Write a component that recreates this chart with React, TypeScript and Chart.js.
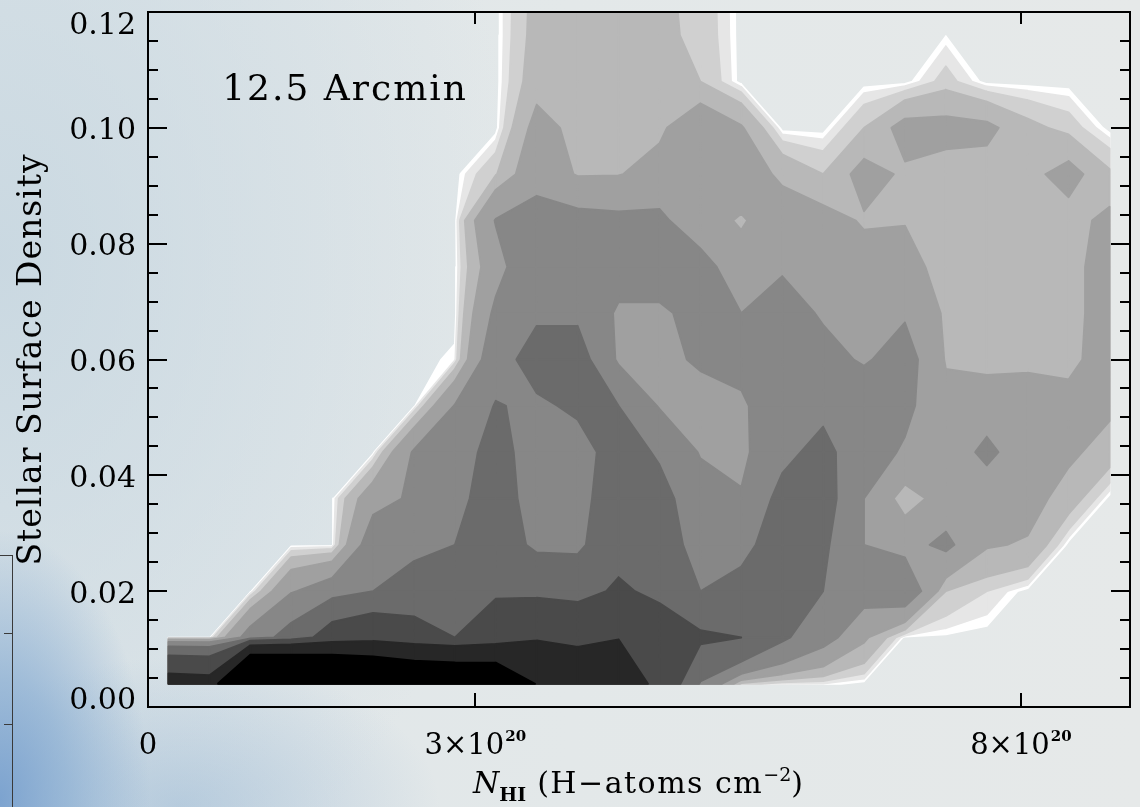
import React, { useEffect, useRef } from "react";
import { Chart, registerables } from "chart.js";

Chart.register(...registerables);

// ---- data -------------------------------------------------------------
// bin centres of the 2-D histogram: N_HI in units of 1e20 H-atoms cm^-2
const xCenters = [
  0.1875, 0.5625, 0.9375, 1.3125, 1.6875, 2.0625, 2.4375, 2.8125, 3.1875, 3.5625, 3.9375, 4.3125,
  4.6875, 5.0625, 5.4375, 5.8125, 6.1875, 6.5625, 6.9375, 7.3125, 7.6875, 8.0625, 8.4375, 8.8125,
];
// stellar surface density bin centres
const yCenters = [
  0.004, 0.012, 0.02, 0.028, 0.036, 0.044, 0.052, 0.06, 0.068, 0.076, 0.084, 0.092, 0.1, 0.108, 0.116, 0.124,
];

// estimated surface values on the grid, one array per density row
const row004 = [330, 315, 1312, 1249, 1095, 961, 864, 839, 803, 500, 400, 400, 200, 60, 6, 1.9, 1.8, 0, 0, 0, 0, 0, 0, 0];
const row012 = [0, 0, 42, 80, 170, 200, 160, 128, 170, 240, 220, 250, 180, 140, 128, 70, 40, 18, 0, 0.5, 0, 0, 0, 0];
const row020 = [0, 0, 0, 30, 45, 64, 90, 100, 120, 110, 100, 140, 110, 64, 80, 90, 64, 40, 48, 8, 4, 0, 0, 0];
const row028 = [0, 0, 0, 0, 0, 45, 50, 64, 90, 55, 55, 100, 90, 45, 50, 90, 70, 32, 26, 36, 17, 15, 0, 0];
const row036 = [0, 0, 0, 0, 0, 25, 35, 55, 80, 50, 50, 90, 75, 45, 34, 75, 80, 32, 10, 22, 22, 20, 12, 0];
const row044 = [0, 0, 0, 0, 0, 0, 34, 50, 75, 50, 50, 80, 60, 30, 26, 55, 75, 40, 30, 22, 36, 22, 18, 12];
const row052 = [0, 0, 0, 0, 0, 0, 0, 33, 66, 58, 70, 64, 30, 26, 28, 50, 55, 45, 36, 20, 24, 26, 20, 18];
const row060 = [0, 0, 0, 0, 0, 0, 0, 1.5, 48, 80, 80, 28, 28, 34, 40, 45, 38, 30, 40, 15, 12, 12, 13, 22];
const row068 = [0, 0, 0, 0, 0, 0, 0, 0, 36, 58, 58, 28, 28, 40, 32, 40, 30, 25, 30, 14, 12, 12, 12, 22];
const row076 = [0, 0, 0, 0, 0, 0, 0, 0, 25, 50, 50, 45, 45, 40, 20, 30, 25, 20, 20, 12, 12, 12, 12, 22];
const row084 = [0, 0, 0, 0, 0, 0, 0, 0, 33, 40, 38, 36, 36, 20, 15, 22, 20, 15, 15.5, 12, 12, 12, 12, 19];
const row092 = [0, 0, 0, 0, 0, 0, 0, 0, 7.5, 25, 15, 15.5, 20, 25, 22, 14, 8, 20, 14.5, 12, 12, 13, 20, 9];
const row100 = [0, 0, 0, 0, 0, 0, 0, 0, 0, 20, 13, 14, 14, 25, 17, 0, 0, 8, 20, 19.5, 18.5, 10, 6, 0];
const row108 = [0, 0, 0, 0, 0, 0, 0, 0, 0, 12, 12, 13, 12, 8, 0, 0, 0, 0, 0, 5.5, 0, 0, 0, 0];
const row116 = [0, 0, 0, 0, 0, 0, 0, 0, 0, 10.5, 11, 11, 9.2, 6.8, 0, 0, 0, 0, 0, 0.9, 0, 0, 0, 0];
const row124 = [0, 0, 0, 0, 0, 0, 0, 0, 0, 10, 11, 11, 9, 6.5, 0, 0, 0, 0, 0, 0, 0, 0, 0, 0];
const densityRows = [
  row004, row012, row020, row028, row036, row044, row052, row060,
  row068, row076, row084, row092, row100, row108, row116, row124,
];

const contourLevels = [1, 2, 4, 8, 16, 32, 64, 128, 256, 512];
const levelColors = [
  "#ffffff", "#e6e6e6", "#d0d0d0", "#b8b8b8", "#a0a0a0",
  "#878787", "#6b6b6b", "#4a4a4a", "#272727", "#000000",
];

const yTickValues = [0, 0.02, 0.04, 0.06, 0.08, 0.1, 0.12];
const yTickLabels = ["0.00", "0.02", "0.04", "0.06", "0.08", "0.10", "0.12"];
const xTickValues = [0, 3, 8];
const xTickMantissas = ["0", "3×10", "8×10"];
const xTickExponents = ["", "20", "20"];
const annotationText = "12.5 Arcmin";
const annotationX = 0.68;
const annotationY = 0.1048;

const SERIF = "'DejaVu Serif', 'Liberation Serif', serif";

type Pt = { x: number | null; y: number | null };

// filled region {value >= level}, cell by cell (marching squares)
function levelRegion(level: number): Pt[] {
  const pts: Pt[] = [];
  const emit = (poly: number[][]) => {
    if (poly.length < 3) return;
    for (const p of poly) pts.push({ x: p[0], y: p[1] });
    pts.push({ x: poly[0][0], y: poly[0][1] });
    pts.push({ x: null, y: null });
  };
  const cross = (a: number[], b: number[]) => {
    const t = (level - a[2]) / (b[2] - a[2]);
    return [a[0] + t * (b[0] - a[0]), a[1] + t * (b[1] - a[1])];
  };
  for (let j = 0; j < yCenters.length - 1; j++) {
    for (let i = 0; i < xCenters.length - 1; i++) {
      const c = [
        [xCenters[i], yCenters[j], densityRows[j][i]],
        [xCenters[i + 1], yCenters[j], densityRows[j][i + 1]],
        [xCenters[i + 1], yCenters[j + 1], densityRows[j + 1][i + 1]],
        [xCenters[i], yCenters[j + 1], densityRows[j + 1][i]],
      ];
      const ins = c.map((p) => p[2] >= level);
      const nIn = ins.filter(Boolean).length;
      if (nIn === 0) continue;
      if (nIn === 2 && ins[0] === ins[2]) {
        const centre = (c[0][2] + c[1][2] + c[2][2] + c[3][2]) / 4;
        if (centre < level) {
          for (let k = 0; k < 4; k++) {
            if (!ins[k]) continue;
            const prev = c[(k + 3) % 4];
            const next = c[(k + 1) % 4];
            emit([cross(prev, c[k]), [c[k][0], c[k][1]], cross(c[k], next)]);
          }
          continue;
        }
      }
      const poly: number[][] = [];
      for (let k = 0; k < 4; k++) {
        const a = c[k];
        const b = c[(k + 1) % 4];
        if (ins[k]) poly.push([a[0], a[1]]);
        if (ins[k] !== ins[(k + 1) % 4]) poly.push(cross(a, b));
      }
      emit(poly);
    }
  }
  return pts;
}

const decorPlugin = {
  id: "decor",
  afterDraw(chart: any) {
    const { ctx, chartArea: a } = chart;
    const xs = chart.scales.x;
    const ys = chart.scales.y;
    ctx.save();
    // frame
    ctx.strokeStyle = "#000";
    ctx.lineWidth = 2;
    ctx.beginPath();
    ctx.rect(a.left, a.top, a.right - a.left, a.bottom - a.top);
    ctx.stroke();
    // y ticks (inward, both sides)
    ctx.beginPath();
    for (let k = 0; k <= 24; k++) {
      const p = Math.round(ys.getPixelForValue(k * 0.005));
      const len = k % 4 === 0 ? 19 : 10;
      ctx.moveTo(a.left, p);
      ctx.lineTo(a.left + len, p);
      ctx.moveTo(a.right, p);
      ctx.lineTo(a.right - len, p);
    }
    // x ticks (inward, top & bottom)
    for (const v of xTickValues) {
      const p = Math.round(xs.getPixelForValue(v));
      ctx.moveTo(p, a.bottom);
      ctx.lineTo(p, a.bottom - 14);
      ctx.moveTo(p, a.top);
      ctx.lineTo(p, a.top + 12);
    }
    ctx.stroke();

    ctx.fillStyle = "#000";
    // y tick labels
    ctx.font = `30px ${SERIF}`;
    ctx.textAlign = "right";
    ctx.textBaseline = "alphabetic";
    yTickValues.forEach((v, i) => {
      const p = ys.getPixelForValue(v);
      const c = Math.min(Math.max(p, a.top + 10.5), a.bottom - 9.5);
      ctx.fillText(yTickLabels[i], a.left - 12, c + 11.5);
    });
    // x tick labels
    ctx.textAlign = "left";
    xTickValues.forEach((v, i) => {
      const p = xs.getPixelForValue(v);
      ctx.font = `29px ${SERIF}`;
      const wb = ctx.measureText(xTickMantissas[i]).width;
      ctx.font = `bold 15px ${SERIF}`;
      const we = xTickExponents[i] ? ctx.measureText(xTickExponents[i]).width + 1 : 0;
      const start = p - (wb + we) / 2;
      ctx.font = `29px ${SERIF}`;
      ctx.fillText(xTickMantissas[i], start, 754);
      if (xTickExponents[i]) {
        ctx.font = `bold 15px ${SERIF}`;
        ctx.fillText(xTickExponents[i], start + wb + 1, 741);
      }
    });

    // x axis title: N_HI (H−atoms cm^-2)
    const parts = [
      { t: "N", f: `italic 30px ${SERIF}`, dy: 0, ls: "0px" },
      { t: "HI", f: `bold 19px ${SERIF}`, dy: 8, ls: "0px" },
      { t: " (H−atoms cm", f: `30px ${SERIF}`, dy: 0, ls: "1.5px" },
      { t: "−2", f: `19px ${SERIF}`, dy: -12, ls: "0px" },
      { t: ")", f: `30px ${SERIF}`, dy: 0, ls: "0px" },
    ];
    let total = 0;
    const widths: number[] = [];
    for (const pt of parts) {
      ctx.font = pt.f;
      (ctx as any).letterSpacing = pt.ls;
      const w = ctx.measureText(pt.t).width;
      widths.push(w);
      total += w;
    }
    let xx = 638 - total / 2;
    parts.forEach((pt, i) => {
      ctx.font = pt.f;
      (ctx as any).letterSpacing = pt.ls;
      ctx.fillText(pt.t, xx, 793 + pt.dy);
      xx += widths[i];
    });
    (ctx as any).letterSpacing = "0px";

    // y axis title
    ctx.save();
    ctx.translate(41, (a.top + a.bottom) / 2);
    ctx.rotate(-Math.PI / 2);
    ctx.font = `33px ${SERIF}`;
    (ctx as any).letterSpacing = "1px";
    ctx.textAlign = "center";
    ctx.fillText("Stellar Surface Density", 0, 0);
    ctx.restore();

    // annotation
    ctx.font = `36px ${SERIF}`;
    (ctx as any).letterSpacing = "2px";
    ctx.textAlign = "left";
    ctx.fillText(annotationText, xs.getPixelForValue(annotationX), ys.getPixelForValue(annotationY));
    (ctx as any).letterSpacing = "0px";
    ctx.restore();
  },
};

export default function App() {
  const ref = useRef<HTMLCanvasElement | null>(null);

  useEffect(() => {
    if (!ref.current) return;
    const datasets = contourLevels.map((lv, k) => ({
      label: `level ${k + 1}`,
      data: levelRegion(lv),
      showLine: true,
      fill: "shape",
      spanGaps: false,
      tension: 0,
      backgroundColor: levelColors[k],
      borderColor: levelColors[k],
      borderWidth: 1.8,
      borderJoinStyle: "round",
      pointRadius: 0,
      pointHoverRadius: 0,
      pointHitRadius: 0,
      order: contourLevels.length - k,
    }));
    const chart = new Chart(ref.current, {
      type: "scatter",
      data: { datasets: datasets as any },
      options: {
        animation: false,
        responsive: false,
        maintainAspectRatio: false,
        devicePixelRatio: 1,
        events: [],
        layout: { padding: { left: 0, right: 10, top: 12, bottom: 0 } },
        plugins: { legend: { display: false }, tooltip: { enabled: false } },
        scales: {
          x: {
            type: "linear",
            min: 0,
            max: 9,
            grid: { display: false, drawTicks: false },
            border: { display: false },
            ticks: { display: false },
            afterFit: (s: any) => {
              s.height = 100;
            },
          },
          y: {
            type: "linear",
            min: 0,
            max: 0.12,
            grid: { display: false, drawTicks: false },
            border: { display: false },
            ticks: { display: false },
            afterFit: (s: any) => {
              s.width = 148;
            },
          },
        },
      } as any,
      plugins: [decorPlugin],
    });
    return () => chart.destroy();
  }, []);

  const bg = [
    "radial-gradient(ellipse 150px 270px at 0px 800px, rgba(120,160,206,0.95) 0%, rgba(135,172,210,0.7) 45%, rgba(140,175,212,0) 100%)",
    "radial-gradient(ellipse 260px 150px at 180px 807px, rgba(150,182,212,0.55) 0%, rgba(150,182,212,0) 100%)",
    "radial-gradient(ellipse 520px 720px at 0px 260px, rgba(198,214,224,0.85) 0%, rgba(198,214,224,0) 100%)",
    "linear-gradient(90deg, #dfe6e9 0%, #e3e8e9 50%, #e6e9e9 100%)",
  ].join(", ");

  return (
    <div
      style={{
        position: "fixed",
        left: 0,
        top: 0,
        width: 1140,
        height: 807,
        overflow: "hidden",
        background: bg,
      }}
    >
      <div
        style={{
          position: "absolute",
          left: 0,
          top: 555,
          width: 12,
          height: 260,
          borderTop: "1.5px solid #3a3a3a",
          borderRight: "1.5px solid #3a3a3a",
        }}
      />
      <div style={{ position: "absolute", left: 4, top: 633, width: 9, height: 0, borderTop: "1.5px solid #3a3a3a" }} />
      <div style={{ position: "absolute", left: 4, top: 724, width: 9, height: 0, borderTop: "1.5px solid #3a3a3a" }} />
      <canvas ref={ref} width={1140} height={807} style={{ position: "absolute", left: 0, top: 0 }} />
    </div>
  );
}
